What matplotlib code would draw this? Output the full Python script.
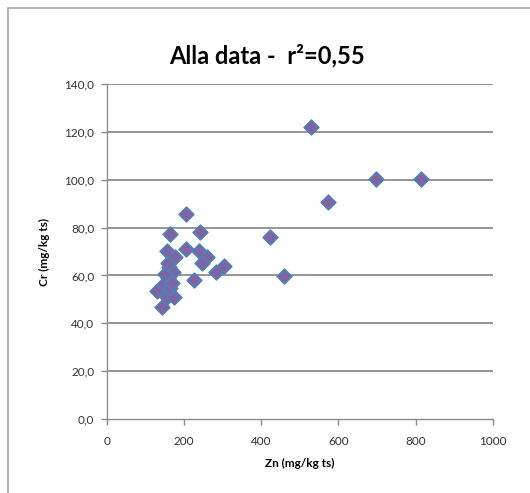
import numpy as np
import matplotlib
matplotlib.use('Agg')
import matplotlib.pyplot as plt
from matplotlib.patches import Rectangle

# Zn (mg/kg ts) vs Cr (mg/kg ts)
zn = [206, 243, 164, 155, 205, 238, 177, 259, 247, 304, 283, 162, 172, 160,
      227, 142, 130, 155, 174, 144, 164, 150, 168, 158,
      530, 697, 813, 573, 423, 459]
cr = [85.5, 78.1, 77.2, 70.2, 70.9, 70.2, 67.6, 67.6, 65.3, 63.9, 61.6, 63.6,
      61.6, 58.8, 58.1, 55.6, 53.6, 51.1, 50.9, 46.7, 54.6, 60.5, 57.0, 65.0,
      122.1, 100.4, 100.1, 90.8, 76.2, 59.9]

x_ticks = [0, 200, 400, 600, 800, 1000]
y_ticks = [0, 20, 40, 60, 80, 100, 120, 140]

plt.rcParams['font.family'] = ['Lato', 'DejaVu Sans']

fig = plt.figure(figsize=(5.30, 4.93), dpi=100)
W, H = 530, 493

# outer chart frame (cropped on the right and bottom)
fig.patches.append(Rectangle((8 / W, -0.1), 1.2, (H - 8) / H + 0.1,
                             transform=fig.transFigure, fill=False,
                             edgecolor='#a6a6a6', lw=1.2))

ax = fig.add_axes([106.7 / W, 74 / H, (492.7 - 106.7) / W, (419 - 84) / H])
ax.set_xlim(0, 1000)
ax.set_ylim(0, 140)
ax.set_xticks(x_ticks)
ax.set_yticks(y_ticks)
ax.set_xticklabels([str(v) for v in x_ticks])
ax.set_yticklabels([f'{v:.1f}'.replace('.', ',') for v in y_ticks])

for v in y_ticks[1:]:
    ax.axhline(v, color='#8c8c8c', lw=1.3, zorder=1)

for s in ['top', 'right']:
    ax.spines[s].set_visible(False)
for s in ['left', 'bottom']:
    ax.spines[s].set_color('#8c8c8c')
    ax.spines[s].set_linewidth(1.0)

ax.tick_params(axis='both', direction='out', length=4, width=1,
               color='#8c8c8c', labelsize=8.5, labelcolor='#333333')
ax.tick_params(axis='x', pad=8)
ax.tick_params(axis='y', pad=5)

ax.scatter(zn, cr, marker='D', s=56, c='#8064A2', edgecolors='#4F81BD',
           linewidths=1.2, zorder=3)

ax.set_xlabel('Zn (mg/kg ts)', fontsize=8.5, fontweight='bold', labelpad=8)
ax.set_ylabel('Cr (mg/kg ts)', fontsize=8.5, fontweight='bold', labelpad=10)

fig.text(267 / W, 1 - 56 / H, 'Alla data -  r²=0,55', ha='center',
         va='center', fontsize=17, fontweight='bold')

fig.savefig('out.png', dpi=100)
